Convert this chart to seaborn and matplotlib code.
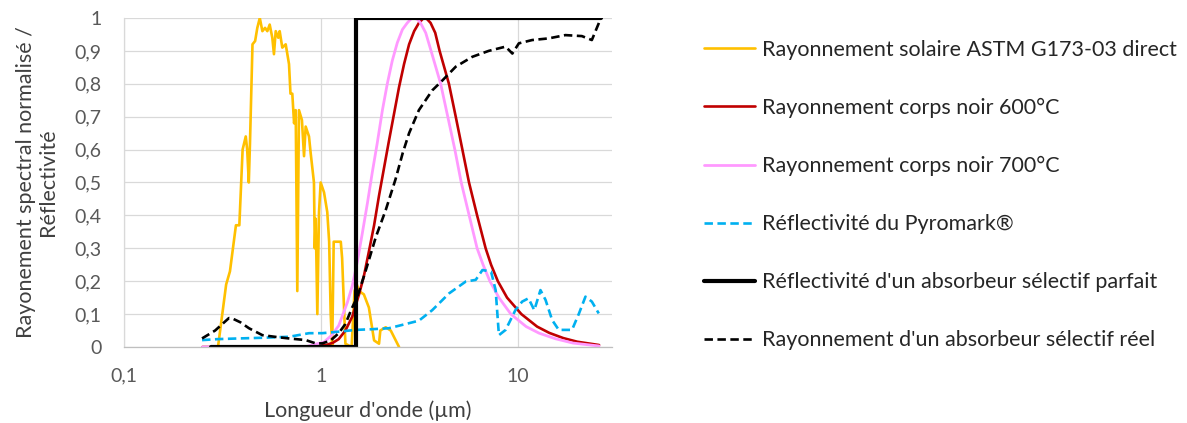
import matplotlib
matplotlib.use("Agg")
import matplotlib.pyplot as plt
import matplotlib.ticker as mticker
import seaborn as sns

sns.set_theme(style="white")
plt.rcParams['font.family'] = ['Lato', 'DejaVu Sans']

#-- Values (wavelength in um, normalised value)
sol_x = [0.30, 0.33, 0.345, 0.37, 0.385, 0.40, 0.415, 0.422, 0.43, 0.436, 0.449, 0.463, 0.475, 0.489,
         0.504, 0.52, 0.534, 0.549, 0.566, 0.577, 0.589, 0.607, 0.617, 0.636, 0.662, 0.688, 0.70, 0.715,
         0.73, 0.744, 0.758, 0.773, 0.80, 0.82, 0.836, 0.869, 0.886, 0.921, 0.93, 0.94, 0.958, 0.977,
         0.996, 1.036, 1.076, 1.10, 1.12, 1.14, 1.16, 1.26, 1.28, 1.33, 1.43, 1.48, 1.52, 1.56, 1.65,
         1.75, 1.86, 1.97, 2.00, 2.13, 2.26, 2.49]
sol_y = [0.0, 0.19, 0.23, 0.37, 0.37, 0.60, 0.64, 0.60, 0.50, 0.62, 0.92, 0.93, 0.97, 1.0,
         0.96, 0.97, 0.96, 0.98, 0.94, 0.89, 0.96, 0.94, 0.96, 0.91, 0.92, 0.86, 0.77, 0.77,
         0.68, 0.72, 0.17, 0.72, 0.69, 0.58, 0.67, 0.64, 0.59, 0.50, 0.30, 0.39, 0.10, 0.41,
         0.50, 0.47, 0.41, 0.32, 0.10, 0.0, 0.32, 0.32, 0.27, 0.01, 0.0, 0.17, 0.19, 0.17, 0.16,
         0.12, 0.02, 0.01, 0.05, 0.06, 0.05, 0.0]

bb600_x = [0.25, 0.6, 0.9, 1.06, 1.15, 1.23, 1.33, 1.44, 1.56, 1.65, 1.75, 1.86, 1.97, 2.09, 2.21,
           2.35, 2.49, 2.64, 2.80, 2.97, 3.14, 3.32, 3.45, 3.6, 3.8, 4.0, 4.46, 4.83, 5.22, 5.64,
           6.2, 6.85, 7.3, 7.9, 8.8, 10.4, 12.5, 14.4, 17.0, 20.0, 25.8]
bb600_y = [0.0, 0.0, 0.001, 0.006, 0.013, 0.024, 0.05, 0.092, 0.16, 0.215, 0.29, 0.37, 0.46, 0.545, 0.625,
           0.71, 0.79, 0.86, 0.92, 0.96, 0.985, 1.0, 0.997, 0.985, 0.955, 0.90, 0.80, 0.70, 0.60, 0.50,
           0.40, 0.30, 0.25, 0.20, 0.15, 0.10, 0.062, 0.043, 0.027, 0.016, 0.006]

bb700_x = [0.25, 0.6, 0.85, 1.036, 1.13, 1.23, 1.36, 1.44, 1.53, 1.62, 1.72, 1.82, 1.93, 2.05, 2.17,
           2.30, 2.44, 2.59, 2.74, 2.86, 2.98, 3.1, 3.2, 3.4, 3.62, 4.05, 4.4, 4.78, 5.15, 5.65,
           6.2, 6.65, 7.2, 8.0, 9.2, 11.0, 12.8, 15.5, 19.0, 25.8]
bb700_y = [0.0, 0.0, 0.002, 0.015, 0.035, 0.065, 0.135, 0.185, 0.26, 0.345, 0.437, 0.53, 0.62, 0.72, 0.80,
           0.87, 0.925, 0.965, 0.985, 0.997, 1.0, 0.995, 0.985, 0.955, 0.90, 0.80, 0.70, 0.60, 0.50, 0.40,
           0.30, 0.25, 0.20, 0.15, 0.10, 0.062, 0.042, 0.025, 0.012, 0.003]

pyro_x = [0.249, 0.3, 0.383, 0.5, 0.688, 0.87, 1.016, 1.25, 1.5, 1.8, 2.21, 2.5, 2.91, 3.14, 3.67,
          4.47, 5.43, 6.1, 6.6, 7.3, 7.7, 8.0, 8.65, 9.7, 10.5, 11.3, 12.1, 13.0, 13.8, 14.9, 16.1,
          18.8, 20.4, 22.0, 23.7, 25.7]
pyro_y = [0.021, 0.024, 0.026, 0.028, 0.031, 0.042, 0.042, 0.047, 0.052, 0.054, 0.057, 0.065, 0.075, 0.08, 0.112,
          0.163, 0.199, 0.204, 0.234, 0.229, 0.173, 0.036, 0.052, 0.112, 0.138, 0.148, 0.112, 0.173, 0.143, 0.082, 0.052,
          0.052, 0.102, 0.153, 0.138, 0.102]

ideal_x = [0.275, 1.5, 1.5, 26.3]
ideal_y = [0.0, 0.0, 1.0, 1.0]

real_x = [0.249, 0.29, 0.341, 0.354, 0.39, 0.431, 0.504, 0.60, 0.688, 0.836, 0.94, 1.016, 1.12, 1.23,
          1.33, 1.44, 1.53, 1.69, 1.9, 2.13, 2.39, 2.6, 2.80, 3.14, 3.67, 4.13, 4.83, 5.86, 7.1, 8.65,
          9.36, 10.1, 11.8, 14.3, 17.4, 21.1, 23.7, 25.7, 26.3]
real_y = [0.026, 0.05, 0.088, 0.087, 0.075, 0.057, 0.036, 0.03, 0.026, 0.021, 0.011, 0.011, 0.02, 0.042,
          0.07, 0.12, 0.153, 0.234, 0.335, 0.416, 0.51, 0.59, 0.65, 0.72, 0.78, 0.81, 0.852, 0.882, 0.90, 0.913,
          0.892, 0.923, 0.933, 0.938, 0.948, 0.945, 0.933, 0.984, 1.0]

labels = ["Rayonnement solaire ASTM G173-03 direct",
          "Rayonnement corps noir 600°C",
          "Rayonnement corps noir 700°C",
          "Réflectivité du Pyromark®",
          "Réflectivité d'un absorbeur sélectif parfait",
          "Rayonnement d'un absorbeur sélectif réel"]

fig = plt.figure(figsize=(11.87, 4.23), dpi=100)
ax = fig.add_axes([124 / 1187, 1 - 347 / 423, (612 - 124) / 1187, (347 - 18) / 423])

dash = (0, (3.2, 1.7))
series = [
    (sol_x, sol_y, "#FFC000", 1.9, "-"),
    (bb600_x, bb600_y, "#C00000", 1.9, "-"),
    (bb700_x, bb700_y, "#FF99FF", 2.0, "-"),
    (pyro_x, pyro_y, "#00B0F0", 1.9, dash),
    (ideal_x, ideal_y, "black", 3.0, "-"),
    (real_x, real_y, "black", 1.9, dash),
]
for (xs, ys, c, lw, ls), lab in zip(series, labels):
    sns.lineplot(x=xs, y=ys, ax=ax, color=c, lw=lw, linestyle=ls, label=lab,
                 estimator=None, sort=False, legend=False)

ax.set_xscale("log")
ax.set_xlim(0.1, 30)
ax.set_ylim(0, 1)

ax.yaxis.set_major_locator(mticker.MultipleLocator(0.1))
ax.yaxis.set_major_formatter(mticker.FuncFormatter(lambda v, p: f"{v:.1f}".rstrip("0").rstrip(".").replace(".", ",")))
ax.xaxis.set_major_locator(mticker.FixedLocator([0.1, 1, 10]))
ax.xaxis.set_major_formatter(mticker.FixedFormatter(["0,1", "1", "10"]))
ax.xaxis.set_minor_locator(mticker.LogLocator(base=10, subs=range(2, 10)))
ax.xaxis.set_minor_formatter(mticker.NullFormatter())

ax.grid(True, which="major", color="#D9D9D9", lw=0.9)
ax.set_axisbelow(True)
for s in ["top", "right"]:
    ax.spines[s].set_visible(False)
ax.spines["left"].set_color("#D9D9D9")
ax.spines["bottom"].set_color("#BFBFBF")
ax.spines["left"].set_linewidth(0.9)
ax.spines["bottom"].set_linewidth(0.9)

ax.tick_params(axis="y", length=0, pad=16, labelsize=14, labelcolor="#595959")
ax.tick_params(axis="x", which="both", direction="in", length=4, color="#BFBFBF",
               pad=15, labelsize=14, labelcolor="#595959")

ax.set_ylabel("Rayonement spectral normalisé /\nRéflectivité", fontsize=15.5, color="#404040",
              linespacing=1.12, labelpad=12)
ax.set_xlabel("Longueur d'onde (µm)", fontsize=15.5, color="#404040", labelpad=11)

handles, labs = ax.get_legend_handles_labels()
fig.legend(handles, labs, loc="upper left", bbox_to_anchor=(695 / 1187, 1 - 31 / 423),
           frameon=False, fontsize=15.5, handlelength=2.37, handletextpad=0.33,
           labelspacing=1.77, borderaxespad=0, labelcolor="#262626")

fig.savefig("out.png", dpi=100)
